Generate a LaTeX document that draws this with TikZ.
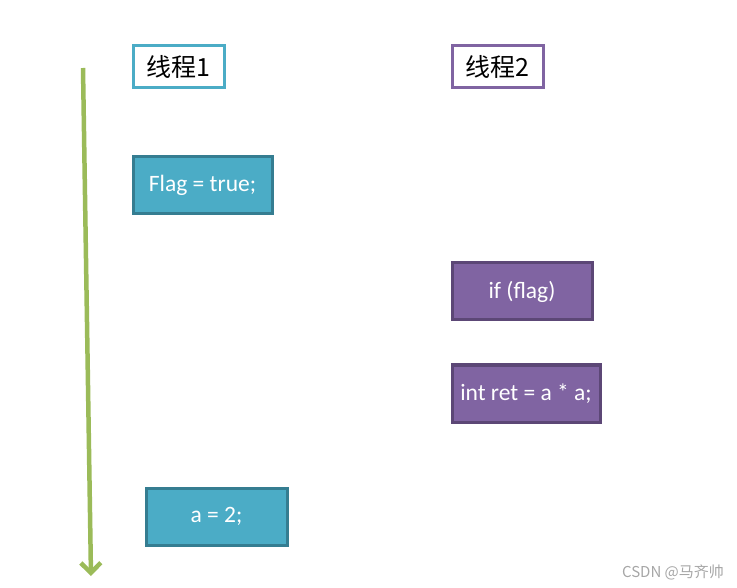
\documentclass[tikz,border=0pt]{standalone}
\usepackage{fontspec}
\setmainfont{Carlito}
\newfontfamily\cjk{Noto Sans CJK SC}
\usetikzlibrary{arrows.meta}
\definecolor{tealfill}{HTML}{4BACC6}
\definecolor{tealline}{HTML}{357D91}
\definecolor{purpfill}{HTML}{8064A2}
\definecolor{purpline}{HTML}{5C4776}
\definecolor{arrowgreen}{HTML}{9BBB59}
\tikzset{
	titlebox/.style={draw, line width=3pt, fill=white, minimum width=91pt, minimum height=42pt, inner sep=0pt, font=\cjk\fontsize{25}{28}\selectfont},
	codebox/.style={line width=3pt, text=white, minimum height=57pt, inner sep=0pt, font=\fontsize{23.5}{27}\selectfont},
	tealbox/.style={codebox, draw=tealline, fill=tealfill},
	purpbox/.style={codebox, draw=purpline, fill=purpfill}
}
\begin{document}
\begin{tikzpicture}[x=1pt, y=-1pt]
	\useasboundingbox (0,0) rectangle (737,588);
	\draw (178.5,67) node[titlebox, draw=tealfill](t1){线程1};
	\draw (497.5,67) node[titlebox, draw=purpfill](t2){线程2};
	
	\draw (202.5,185.5) node[tealbox, minimum width=139pt](flag){Flag = true;};
	\draw (522,291.5) node[purpbox, minimum width=140pt](iff){if (flag)};
	\draw (526,393.5) node[purpbox, minimum width=148pt](ret){int ret = a * a;};
	\draw (216.5,516.5) node[tealbox, minimum width=141pt](atwo){a = 2;};
	
	\coordinate (tstart) at (83,68);
	\coordinate (tend) at (91,576);
	\draw [arrowgreen, line width=4.5pt, -{Straight Barb[length=10pt, width=20pt]}](tstart) -- (tend);
	
	\draw (673,572) node[text=gray!70, font=\cjk\fontsize{15}{17}\selectfont](mark){CSDN @马齐帅};
\end{tikzpicture}
\end{document}
